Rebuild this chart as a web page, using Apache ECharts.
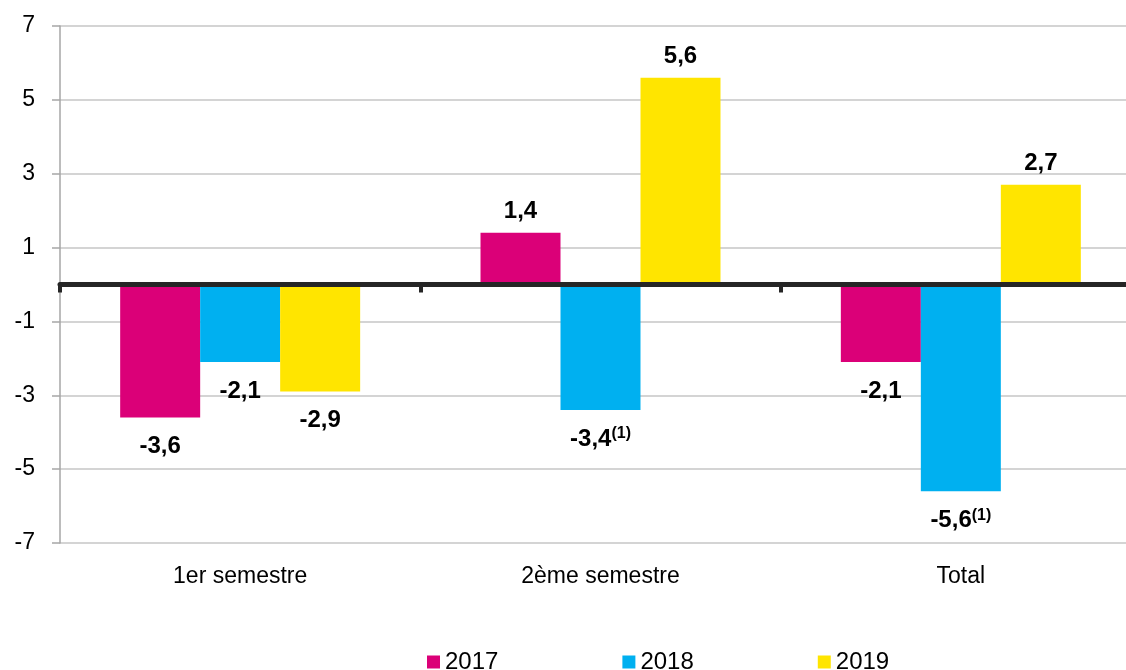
<!DOCTYPE html>
<html>
<head>
<meta charset="utf-8">
<script src="https://cdn.jsdelivr.net/npm/echarts@6/dist/echarts.min.js"></script>
<style>html,body{margin:0;padding:0;background:#fff}#c{width:1126px;height:670px}</style>
</head>
<body>
<div id="c"></div>
<script>
var categories = ['1er semestre', '2ème semestre', 'Total'];
var years = ['2017', '2018', '2019'];
var values2017 = [-3.6, 1.4, -2.1];
var values2018 = [-2.1, -3.4, -5.6];
var values2019 = [-2.9, 5.6, 2.7];
var notes2018 = ['', '(1)', '(1)'];
var yTicks = { min: -7, max: 7, interval: 2 };
var colors = ['#DB0078', '#00B0F0', '#FFE500'];
var FONT = "'Liberation Sans', Arial, sans-serif";

function makeData(vals, notes) {
  return vals.map(function (v, i) {
    return {
      value: v,
      note: notes ? notes[i] : '',
      label: { position: v >= 0 ? 'top' : 'bottom', distance: v >= 0 ? 8 : 16 }
    };
  });
}
function fmt(p) {
  var s = String(p.value).replace('.', ',');
  var n = p.data.note;
  return n ? '{v|' + s + '}{s|' + n + '}' : '{v|' + s + '}';
}
var labelCfg = {
  show: true,
  formatter: fmt,
  rich: {
    v: { fontFamily: FONT, fontSize: 24, fontWeight: 'bold', color: '#000', lineHeight: 26 },
    s: { fontFamily: FONT, fontSize: 16, fontWeight: 'bold', color: '#000', verticalAlign: 'top', lineHeight: 16 }
  }
};
var seriesVals = [values2017, values2018, values2019];
var seriesNotes = [null, notes2018, null];
var series = years.map(function (y, k) {
  return {
    name: y,
    type: 'bar',
    xAxisIndex: 0,
    yAxisIndex: 0,
    barGap: '0%',
    barCategoryGap: '33.4%',
    itemStyle: { color: colors[k] },
    label: labelCfg,
    data: makeData(seriesVals[k], seriesNotes[k])
  };
});

var chart = echarts.init(document.getElementById('c'));
chart.setOption({
  animation: false,
  backgroundColor: '#fff',
  color: colors,
  grid: { left: 60, top: 26, width: 1081, height: 517, containLabel: false, outerBoundsMode: 'none' },
  legend: {
    data: years,
    left: 422,
    top: 645,
    icon: 'rect',
    itemWidth: 13,
    itemHeight: 13,
    itemGap: 124,
    textStyle: { fontFamily: FONT, fontSize: 24, color: '#000' }
  },
  xAxis: [
    {
      type: 'category',
      data: categories,
      position: 'bottom',
      axisLine: { show: false, onZero: false },
      axisTick: { show: false },
      axisLabel: { fontFamily: FONT, fontSize: 23, color: '#000', margin: 22 },
      splitLine: { show: false }
    },
    {
      type: 'category',
      data: categories,
      position: 'bottom',
      z: 5,
      axisLine: { show: true, onZero: true, onZeroAxisIndex: 0, lineStyle: { color: '#262626', width: 5 } },
      axisTick: { show: true, length: 8, lineStyle: { color: '#262626', width: 4 } },
      axisLabel: { show: false },
      splitLine: { show: false }
    }
  ],
  yAxis: {
    type: 'value',
    min: yTicks.min,
    max: yTicks.max,
    interval: yTicks.interval,
    axisLine: { show: true, lineStyle: { color: '#a6a6a6', width: 1.5 } },
    axisTick: { show: true, length: 8, lineStyle: { color: '#a6a6a6', width: 1.5 } },
    axisLabel: { fontFamily: FONT, fontSize: 23, color: '#000', margin: 25 },
    splitLine: { show: true, lineStyle: { color: '#c6c6c6', width: 1.5 } }
  },
  series: series
});
</script>
</body>
</html>
